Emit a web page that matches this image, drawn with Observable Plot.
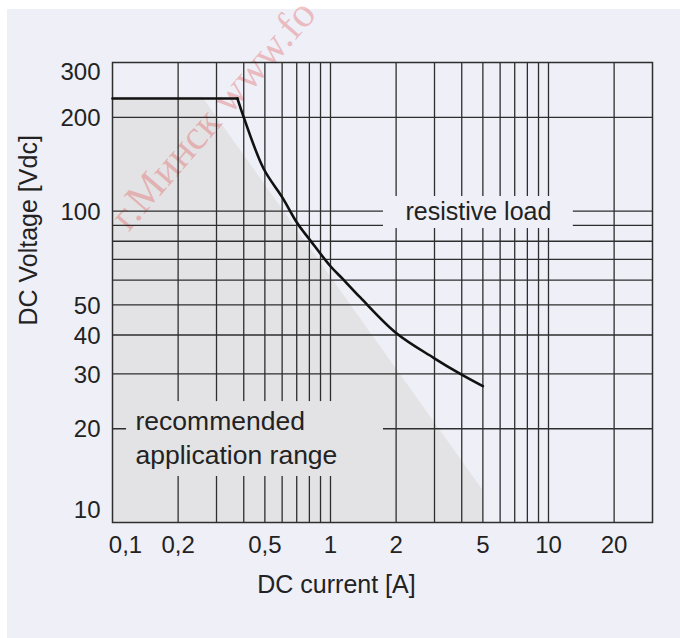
<!DOCTYPE html>
<html><head><meta charset="utf-8">
<script src="https://cdn.jsdelivr.net/npm/d3@7"></script>
<script src="https://cdn.jsdelivr.net/npm/@observablehq/plot@0.6"></script>
<style>
body{margin:0;background:#fff;}
#bg{position:absolute;left:7px;top:9px;width:673px;height:629px;background:#eeeff7;}
#chart{position:absolute;left:0;top:0;}
</style></head><body><div id="bg"></div><div id="chart"></div>
<script>
// Resistive-load curve (DC current [A] vs DC voltage [Vdc])
const flatCurrent = [0.1, 0.374];
const flatVoltage = [230, 230];
const current = [0.374, 0.399, 0.493, 0.602, 0.706, 0.809, 1.0, 1.135, 1.373, 2.0, 2.97, 3.94, 5.0];
const voltage = [230, 201, 137, 110.5, 91.2, 80.4, 66.5, 60.7, 52.7, 40.6, 33.8, 30.0, 27.4];
// Recommended application range (shaded)
const rangeCurrent = [0.1, 0.259, 5];
const rangeVoltage = [232, 232, 12.7];
// Grid lines
const xGrid = [0.2,0.3,0.4,0.5,0.6,0.7,0.8,0.9,1,2,3,4,5,6,7,8,9,10,20];
const yGrid = [20,30,40,50,60,70,80,90,100,200];
// Tick labels
const xTicks = [0.2,0.5,1,2,5,10,20];
const xTickFirst = [0.1];
const yTicks = [20,30,40,50,100,200];
const yTickTop = [300];
const yTickBottom = [10];
// Annotations
const labelText = ["resistive load", "recommended\napplication range"];
const labelX = [4.77, 0.1275];
const labelY = [99, 19.0];
const labelAnchor = ["middle", "start"];
const boxX1 = [1.75, 0.116];
const boxX2 = [13.0, 1.75];
const boxY1 = [87.9, 14.05];
const boxY2 = [111.4, 24.45];
const boxFill = ["#eeeff7", "#e3e3e5"];
const watermark = ["г.Минск www.fo"];

const flat = flatCurrent.map((c, i) => ({c, v: flatVoltage[i]}));
const curve = current.map((c, i) => ({c, v: voltage[i]}));
const shade = rangeCurrent.map((c, i) => ({c, v: rangeVoltage[i]}));
const boxes = boxX1.map((x1, i) => ({x1, x2: boxX2[i], y1: boxY1[i], y2: boxY2[i], fill: boxFill[i]}));
const labels = labelText.map((t, i) => ({t, x: labelX[i], y: labelY[i], a: labelAnchor[i]}));
const fmt = d => String(d).replace(".", ",");
const gridStyle = {stroke: "#2e2e2e", strokeWidth: 1.3};

const chart = Plot.plot({
  width: 680, height: 638,
  marginLeft: 112, marginRight: 28, marginTop: 62, marginBottom: 116,
  x: {type: "log", domain: [0.1, 30], axis: null},
  y: {type: "log", domain: [10, 300], axis: null},
  style: {background: "transparent", fontFamily: "'Liberation Sans', Arial, sans-serif", fontSize: "24px", color: "#222"},
  marks: [
    Plot.areaY(shade, {x: "c", y1: 10, y2: "v", fill: "#e3e3e5"}),
    Plot.text(watermark, {x: 0.1184, y: 85.3, text: d => d, rotate: -49, textAnchor: "start", lineAnchor: "bottom", fontSize: 42, fontFamily: "'Liberation Serif', serif", fill: "#e04848", fillOpacity: 0.33}),
    Plot.ruleX(xGrid, gridStyle),
    Plot.ruleY(yGrid, gridStyle),
    Plot.frame({stroke: "#2e2e2e", strokeWidth: 1.5}),
    Plot.line(flat, {x: "c", y: "v", stroke: "#111", strokeWidth: 2.6}),
    Plot.line(curve, {x: "c", y: "v", stroke: "#111", strokeWidth: 2.6, curve: "catmull-rom"}),
    Plot.rect(boxes, {x1: "x1", x2: "x2", y1: "y1", y2: "y2", fill: d => d.fill}),
    Plot.text(labels.filter(d => d.a === "middle"), {x: "x", y: "y", text: "t", textAnchor: "middle", lineAnchor: "middle", fontSize: 25, fill: "#222"}),
    Plot.text(labels.filter(d => d.a === "start"), {x: "x", y: "y", text: "t", textAnchor: "start", lineAnchor: "middle", lineHeight: 1.3, fontSize: 26.5, fill: "#222"}),
    // x tick labels
    Plot.text(xTicks, {x: d => d, text: fmt, frameAnchor: "bottom", dy: 23, lineAnchor: "middle", fill: "#222"}),
    Plot.text(xTickFirst, {x: d => d, text: fmt, frameAnchor: "bottom", dy: 23, dx: 13, lineAnchor: "middle", fill: "#222"}),
    // y tick labels
    Plot.text(yTicks, {y: d => d, text: fmt, frameAnchor: "left", dx: -12, dy: 1, textAnchor: "end", lineAnchor: "middle", fill: "#222"}),
    Plot.text(yTickTop, {y: d => d, text: fmt, frameAnchor: "left", dx: -12, dy: 10, textAnchor: "end", lineAnchor: "middle", fill: "#222"}),
    Plot.text(yTickBottom, {y: d => d, text: fmt, frameAnchor: "left", dx: -12, dy: -12, textAnchor: "end", lineAnchor: "middle", fill: "#222"}),
    // axis titles
    Plot.text(["DC current [A]"], {x: 1.065, text: d => d, frameAnchor: "bottom", dy: 62, lineAnchor: "middle", fontSize: 25, fill: "#222"}),
    Plot.text(["DC Voltage [Vdc]"], {y: 42.9, text: d => d, frameAnchor: "left", dx: -84, rotate: -90, lineAnchor: "middle", fontSize: 25, fill: "#222"})
  ]
});
document.getElementById("chart").appendChild(chart);
</script></body></html>
